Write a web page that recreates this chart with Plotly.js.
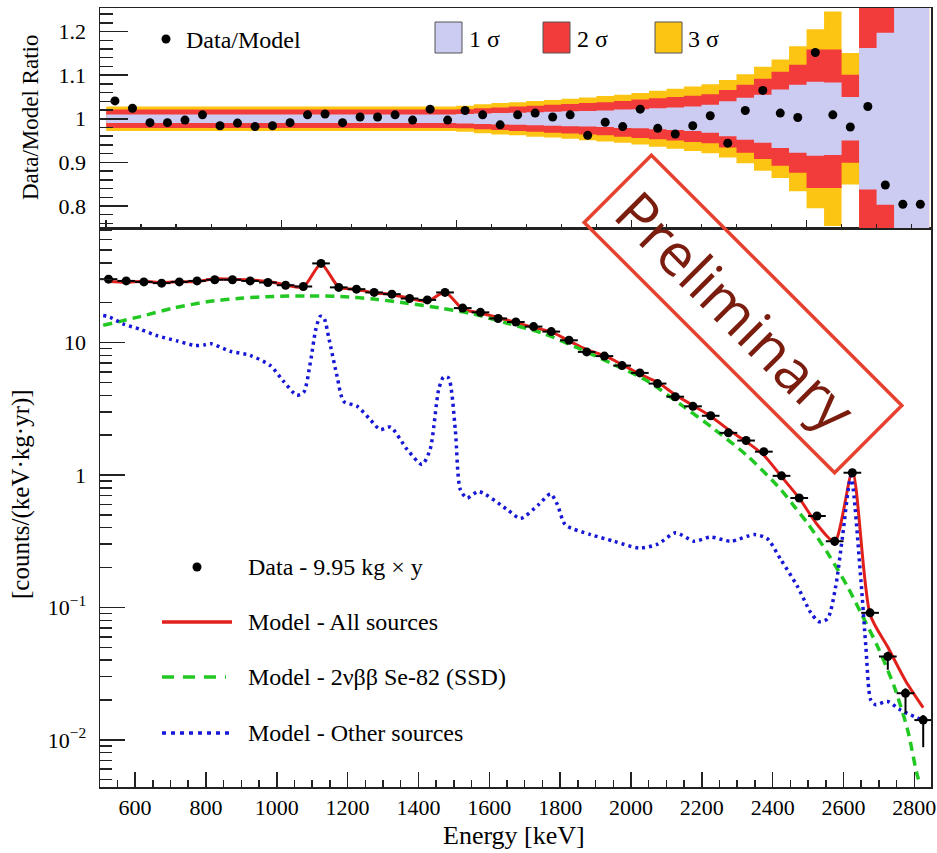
<!DOCTYPE html>
<html><head><meta charset="utf-8">
<script src="https://cdn.plot.ly/plotly-3.0.1.min.js"></script>
<style>html,body{margin:0;padding:0;background:#fff}#chart{width:937px;height:853px}</style>
</head><body><div id="chart"></div>
<script>
// ---- bin centres (keV) ----
const energy = [525,575,625,675,725,775,825,875,925,975,1025,1075,1125,1175,1225,1275,1325,1375,1425,1475,1525,1575,1625,1675,1725,1775,1825,1875,1925,1975,2025,2075,2125,2175,2225,2275,2325,2375,2425,2475,2525,2575,2625,2675,2725,2775,2825];
const binHalfWidth = 25;
// ---- measured rate [counts/(keV kg yr)] ----
const dataRate = [30.1,29.2,28.7,28.1,28.7,29.2,29.8,29.8,29.2,28.4,27.1,26.5,39.6,26.1,25.3,23.9,23.2,21.5,21.0,23.9,18.2,16.9,15.2,14.3,13.2,12.1,10.4,8.5,7.9,6.7,5.9,4.9,3.9,3.3,2.8,2.08,1.82,1.50,0.985,0.67,0.49,0.316,1.04,0.091,0.0426,0.0225,0.0141];
const errUp   = [0.25,0.24,0.24,0.24,0.24,0.24,0.24,0.24,0.24,0.24,0.23,0.23,0.28,0.23,0.23,0.22,0.22,0.21,0.21,0.22,0.19,0.18,0.17,0.17,0.16,0.16,0.14,0.13,0.13,0.12,0.11,0.10,0.09,0.08,0.075,0.065,0.06,0.055,0.045,0.037,0.031,0.025,0.046,0.0065,0.0038,0.002,0.0013];
const errDown = [0.25,0.24,0.24,0.24,0.24,0.24,0.24,0.24,0.24,0.24,0.23,0.23,0.28,0.23,0.23,0.22,0.22,0.21,0.21,0.22,0.19,0.18,0.17,0.17,0.16,0.16,0.14,0.13,0.13,0.12,0.11,0.10,0.09,0.08,0.075,0.065,0.06,0.055,0.045,0.037,0.031,0.025,0.046,0.0058,0.0088,0.0066,0.0053];
// ---- model: all sources (bin centres) ----
const modelAll = [28.9,28.5,29.0,28.4,28.8,28.9,30.3,30.1,29.7,28.9,27.3,26.3,39.2,26.3,25.2,23.8,23.0,21.6,20.5,24.0,17.9,16.7,15.4,14.2,13.0,12.05,10.3,8.84,7.96,6.82,5.77,5.01,4.04,3.35,2.78,2.20,1.79,1.41,0.972,0.668,0.425,0.313,1.06,0.0885,0.0502,0.028,0.0175];
// ---- model: 2vbb Se-82 (SSD) ----
const ssdEnergy = [510,614,708,803,897,991,1085,1180,1274,1368,1462,1556,1650,1750,1850,1950,2046,2140,2235,2329,2423,2461,2499,2555,2611,2649,2696,2743,2781,2809,2818];
const ssdRate   = [13.5,15.7,18.2,20.3,21.6,22.3,22.5,22.3,21.3,19.8,18.2,16.4,14.0,11.8,9.1,6.85,5.13,3.41,2.22,1.39,0.776,0.58,0.43,0.258,0.144,0.091,0.0508,0.0253,0.0119,0.0053,0.0046];
// ---- model: other sources ----
const otherEnergy = [510,530,567,614,661,718,770,795,815,868,925,982,1019,1057,1076,1095,1110,1123,1133,1148,1170,1189,1227,1265,1292,1321,1368,1410,1433,1457,1471,1485,1504,1518,1537,1570,1650,1688,1740,1773,1792,1815,1886,1952,2023,2075,2126,2178,2225,2282,2348,2385,2423,2470,2508,2531,2555,2578,2597,2621,2649,2663,2677,2691,2724,2761,2823];
const otherRate   = [16.0,15.5,13.8,12.6,11.3,10.3,9.5,9.6,9.8,8.6,8.0,6.7,5.1,4.0,4.2,7.1,12.5,15.8,15.4,10.5,5.6,3.6,3.3,2.6,2.2,2.3,1.56,1.2,1.56,4.4,5.5,5.4,2.2,0.78,0.67,0.75,0.55,0.47,0.6,0.72,0.6,0.42,0.355,0.316,0.281,0.30,0.366,0.316,0.34,0.316,0.355,0.33,0.23,0.144,0.091,0.078,0.082,0.144,0.34,0.98,0.162,0.051,0.020,0.0184,0.0195,0.0168,0.0141];
// ---- ratio panel ----
const ratio = [1.041,1.024,0.991,0.991,0.997,1.009,0.984,0.990,0.982,0.984,0.991,1.009,1.011,0.991,1.004,1.004,1.009,0.997,1.022,0.997,1.019,1.009,0.986,1.009,1.013,1.004,1.009,0.962,0.992,0.982,1.022,0.978,0.965,0.984,1.007,0.944,1.019,1.065,1.013,1.003,1.152,1.009,0.981,1.028,0.848,0.804,0.804];
// half widths of the 1/2/3 sigma bands around 1
const band1 = [0.010,0.010,0.010,0.010,0.010,0.010,0.010,0.010,0.010,0.010,0.010,0.010,0.010,0.010,0.010,0.010,0.010,0.010,0.010,0.010,0.011,0.012,0.013,0.014,0.015,0.016,0.017,0.018,0.019,0.021,0.022,0.024,0.026,0.028,0.032,0.040,0.048,0.055,0.067,0.078,0.085,0.083,0.050,0.162,0.197,0.35,0.35];
const band2 = [0.021,0.021,0.021,0.021,0.021,0.021,0.021,0.021,0.021,0.021,0.021,0.021,0.021,0.021,0.021,0.021,0.021,0.021,0.021,0.021,0.022,0.024,0.026,0.028,0.030,0.032,0.034,0.036,0.038,0.041,0.044,0.047,0.050,0.053,0.056,0.066,0.078,0.092,0.108,0.124,0.159,0.159,0.101,0.33,0.40,0.7,0.7];
const band3 = [0.028,0.028,0.028,0.028,0.028,0.028,0.028,0.028,0.028,0.028,0.028,0.028,0.028,0.028,0.028,0.028,0.028,0.028,0.028,0.028,0.030,0.033,0.036,0.038,0.041,0.043,0.046,0.049,0.052,0.055,0.059,0.064,0.069,0.074,0.079,0.089,0.102,0.119,0.136,0.166,0.205,0.246,0.151,0.5,0.6,1.0,1.0];
// ---- tick labels ----
const logTickVals = [0.01,0.1,1,10];
const logTickText = ['10<sup>\u22122</sup>','10<sup>\u22121</sup>','1','10'];
const logMinorVals = [0.005,0.006,0.007,0.008,0.009,0.02,0.03,0.04,0.05,0.06,0.07,0.08,0.09,0.2,0.3,0.4,0.5,0.6,0.7,0.8,0.9,2,3,4,5,6,7,8,9,20,30,40,50,60,70];

const C1 = '#ccccf2', C2 = '#f23b3b', C3 = '#fcc514';
const SERIF = '"Liberation Serif", "Times New Roman", serif';
const AX = '#222';

// stepped band polygon (upper edge left->right, lower edge right->left), drawn with hv steps
function band(hw, color) {
  const n = energy.length;
  const xs = [], ys = [];
  for (let i = 0; i < n; i++) { xs.push(energy[i] - binHalfWidth); ys.push(1 + hw[i]); }
  xs.push(energy[n - 1] + binHalfWidth); ys.push(1 + hw[n - 1]);
  xs.push(energy[n - 1] + binHalfWidth); ys.push(1 - hw[n - 1]);
  for (let i = n - 1; i >= 0; i--) {
    xs.push(energy[i] - binHalfWidth); ys.push(1 - (i > 0 ? hw[i - 1] : hw[0]));
  }
  return {type:'scatter', mode:'lines', x: xs, y: ys, fill:'toself', fillcolor: color,
    line:{width:0, shape:'hv', color: color}, xaxis:'x2', yaxis:'y2', hoverinfo:'skip', showlegend:false};
}

const traces = [
  band(band3, C3), band(band2, C2), band(band1, C1),
  {type:'scatter', mode:'markers', x: energy, y: ratio, xaxis:'x2', yaxis:'y2',
   marker:{color:'#000', size:9}, showlegend:false},
  {type:'scatter', mode:'lines', x: energy, y: modelAll, xaxis:'x', yaxis:'y',
   line:{color:'#e1201c', width:3, shape:'spline', smoothing:0.7}, showlegend:false},
  {type:'scatter', mode:'lines', x: ssdEnergy, y: ssdRate, xaxis:'x', yaxis:'y',
   line:{color:'#22c822', width:3.5, dash:'9px,6px', shape:'spline', smoothing:0.8}, showlegend:false},
  {type:'scatter', mode:'lines', x: otherEnergy, y: otherRate, xaxis:'x', yaxis:'y',
   line:{color:'#1717d6', width:3.5, dash:'3px,4px', shape:'spline', smoothing:0.7}, showlegend:false},
  {type:'scatter', mode:'markers', x: energy, y: dataRate, xaxis:'x', yaxis:'y',
   marker:{color:'#000', size:9},
   error_x:{type:'constant', value: binHalfWidth, color:'#000', thickness:2, width:0},
   error_y:{type:'data', array: errUp, arrayminus: errDown, symmetric:false, color:'#000', thickness:2, width:0},
   showlegend:false}
];

// pixel -> paper helpers for decorations
const PL = 100, PR = 931, PT = 8, PB = 787;
const px = v => (v - PL) / (PR - PL);
const py = v => (PB - v) / (PB - PT);
const split = py(228);

const shapes = [];
const annotations = [];
function txt(t, x, y, size, opts) {
  annotations.push(Object.assign({text: t, xref:'paper', yref:'paper', x: px(x), y: py(y),
    xanchor:'left', yanchor:'middle', showarrow:false,
    font:{family: SERIF, size: size, color:'#000'}}, opts || {}));
}
function box(x0, x1, y0, y1, color) {
  shapes.push({type:'rect', xref:'paper', yref:'paper', x0: px(x0), x1: px(x1), y0: py(y1), y1: py(y0),
    fillcolor: color, line:{color:'#555', width:1}});
}
function dot(x, y, r) {
  shapes.push({type:'circle', xref:'paper', yref:'paper', x0: px(x - r), x1: px(x + r), y0: py(y + r), y1: py(y - r),
    fillcolor:'#000', line:{color:'#000', width:0}});
}
function seg(x0, x1, y, color, width, dash) {
  shapes.push({type:'line', xref:'paper', yref:'paper', x0: px(x0), x1: px(x1), y0: py(y), y1: py(y),
    line:{color: color, width: width, dash: dash || 'solid'}});
}

// top legend
dot(166, 39, 4.5);
txt('Data/Model', 184, 40, 24);
box(435, 462, 22, 53, C1); txt('1 \u03c3', 467, 39, 24);
box(543, 570, 22, 53, C2); txt('2 \u03c3', 575, 39, 24);
box(655, 682, 22, 53, C3); txt('3 \u03c3', 686, 39, 24);

// bottom legend
dot(197, 567, 4.5);
txt('Data - 9.95 kg \u00d7 y', 246, 567, 24);
seg(162, 232, 622, '#e1201c', 3.5);
txt('Model - All sources', 246, 622, 24);
seg(162, 226, 677, '#22c822', 3.5, '12px,9px');
txt('Model - 2\u03bd\u03b2\u03b2 Se-82 (SSD)', 246, 677, 24);
seg(162, 230, 733, '#1717d6', 3.5, '4px,5px');
txt('Model - Other sources', 246, 733, 24);

// axis titles
txt('Data/Model Ratio', 30, 118, 23, {xanchor:'center', textangle:-90});
txt('[counts/(keV\u00b7kg\u00b7yr)]', 21, 494, 25, {xanchor:'center', textangle:-90});
txt('Energy [keV]', 514, 836, 26, {xanchor:'center'});

// Preliminary stamp
shapes.push({type:'path', xref:'paper', yref:'paper',
  path: `M ${px(584.2)},${py(222.4)} L ${px(651.4)},${py(155.2)} L ${px(901.8)},${py(405.6)} L ${px(834.6)},${py(472.8)} Z`,
  line:{color:'#e5432f', width:3.5}, fillcolor:'rgba(0,0,0,0)'});
annotations.push({text:'Preliminary', xref:'paper', yref:'paper', x: px(737), y: py(310),
  xanchor:'center', yanchor:'middle', textangle:45, showarrow:false,
  font:{family:'"Open Sans", "Noto Sans", sans-serif', size:58, color:'#7a1d0e'}});

const tickFont = {family: SERIF, size: 22, color:'#000'};
const layout = {
  width: 937, height: 853,
  margin: {l: PL, r: 937 - PR, t: PT, b: 853 - PB},
  paper_bgcolor:'#fff', plot_bgcolor:'#fff',
  showlegend:false,
  xaxis: {domain:[0,1], anchor:'y', range:[501, 2847], showgrid:false, zeroline:false,
    showline:true, mirror:true, linecolor:AX, linewidth:1.5,
    ticks:'inside', ticklen:15, tickwidth:1.5, tickcolor:AX, tick0:600, dtick:200,
    minor:{ticks:'inside', ticklen:7, tickwidth:1.5, tickcolor:AX, dtick:50, showgrid:false},
    tickfont: tickFont, ticklabelstandoff: 0},
  yaxis: {domain:[0, split], anchor:'x', type:'log', range:[-2.356, 1.865], showgrid:false, zeroline:false,
    showline:true, mirror:true, linecolor:AX, linewidth:1.5,
    ticks:'inside', ticklen:25, tickwidth:1.5, tickcolor:AX,
    tickmode:'array', tickvals: logTickVals, ticktext: logTickText,
    minor:{tickmode:'array', tickvals: logMinorVals, ticks:'inside', ticklen:12, tickwidth:1.5, tickcolor:AX, showgrid:false},
    tickfont: tickFont, ticklabelstandoff: 8},
  xaxis2: {domain:[0,1], anchor:'y2', range:[482.3, 2855.4], showgrid:false, zeroline:false,
    showline:true, mirror:true, linecolor:AX, linewidth:1.5, showticklabels:false,
    ticks:'inside', ticklen:8, tickwidth:1.5, tickcolor:AX, tick0:500, dtick:500,
    minor:{ticks:'inside', ticklen:4, tickwidth:1.5, tickcolor:AX, dtick:100, showgrid:false}},
  yaxis2: {domain:[split, 1], anchor:'x2', range:[0.7495, 1.254], showgrid:false, zeroline:false,
    showline:true, mirror:true, linecolor:AX, linewidth:1.5,
    ticks:'inside', ticklen:28, tickwidth:1.5, tickcolor:AX, tick0:0.8, dtick:0.1,
    minor:{ticks:'inside', ticklen:13, tickwidth:1.5, tickcolor:AX, dtick:0.02, showgrid:false},
    tickfont: tickFont, ticklabelstandoff: 8},
  shapes: shapes,
  annotations: annotations
};

Plotly.newPlot('chart', traces, layout, {displayModeBar:false, staticPlot:true});
</script>
</body></html>
